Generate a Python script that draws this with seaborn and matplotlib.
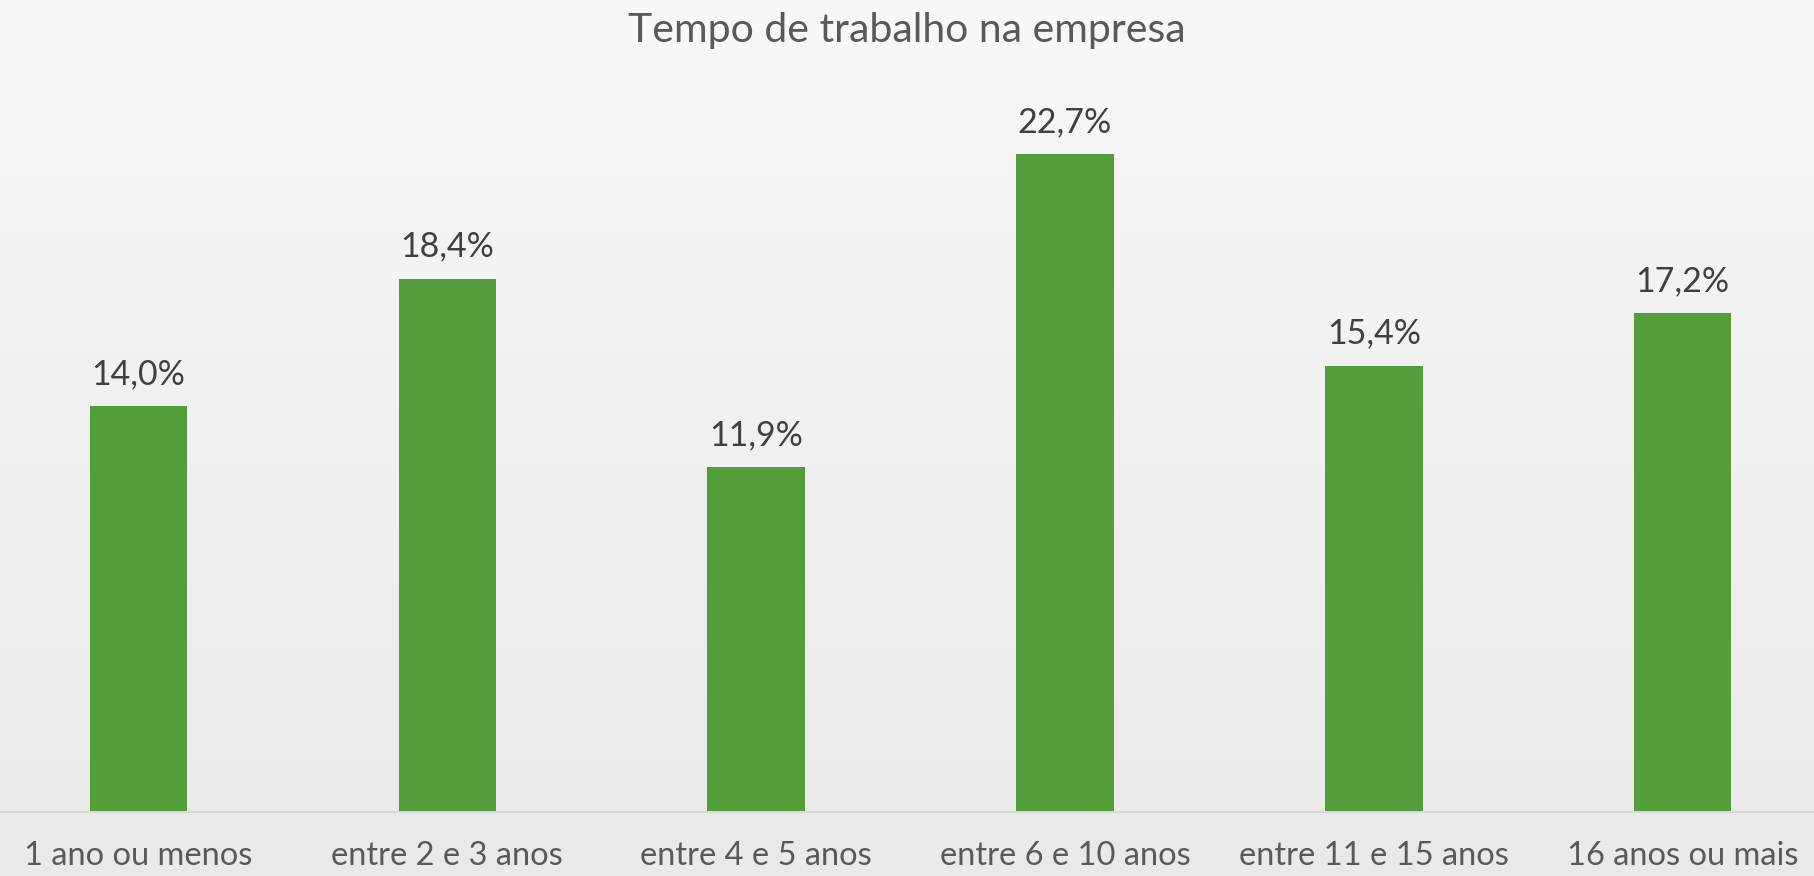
import numpy as np
import pandas as pd
import seaborn as sns
import matplotlib.pyplot as plt

# Chart data
categories = ["1 ano ou menos", "entre 2 e 3 anos", "entre 4 e 5 anos",
              "entre 6 e 10 anos", "entre 11 e 15 anos", "16 anos ou mais"]
values = [14.0, 18.4, 11.9, 22.7, 15.4, 17.2]
value_labels = ["14,0%", "18,4%", "11,9%", "22,7%", "15,4%", "17,2%"]

df = pd.DataFrame({"tempo": categories, "pct": values})

sns.set_theme(style="white")
plt.rcParams["font.family"] = ["Lato", "DejaVu Sans"]

fig = plt.figure(figsize=(18.14, 8.76), dpi=100)

# light grey background with soft gradient
bg = fig.add_axes([0, 0, 1, 1], zorder=0)
grad = np.linspace(0, 1, 256).reshape(-1, 1) * np.ones((1, 256))
bg.imshow(grad, cmap=plt.matplotlib.colors.LinearSegmentedColormap.from_list(
    "bg", ["#f8f8f8", "#e9e9e9"]), aspect="auto", extent=[0, 1, 0, 1], origin="upper")
bg.axis("off")

ax = fig.add_axes([-0.0089, 0.0727, 1.0217, 0.8278], zorder=1)
ax.patch.set_alpha(0)

sns.barplot(data=df, x="tempo", y="pct", color="#539E3A", saturation=1,
            width=0.315, linewidth=0, ax=ax)

for i, (v, lab) in enumerate(zip(values, value_labels)):
    ax.text(i, v + 0.55, lab, ha="center", va="bottom", fontsize=24.5, color="#404040")

ax.set_ylim(0, 25)
ax.set_xlim(-0.5, 5.5)
ax.set_xlabel("")
ax.set_ylabel("")
ax.set_yticks([])
ax.tick_params(axis="x", length=0, pad=21, labelsize=23.5, labelcolor="#595959")
for s in ["top", "right", "left"]:
    ax.spines[s].set_visible(False)
ax.spines["bottom"].set_color("#d9d9d9")
ax.spines["bottom"].set_linewidth(1.5)

fig.text(0.5, 0.965, "Tempo de trabalho na empresa", ha="center", va="center",
         fontsize=29.5, color="#595959")

fig.savefig("out.png", dpi=100)
